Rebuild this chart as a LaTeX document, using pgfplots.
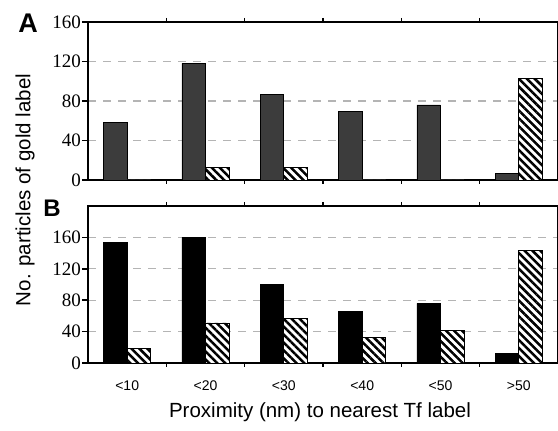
\documentclass[border=0pt]{standalone}
\usepackage{fontspec}
\setmainfont{Liberation Serif}
\newfontfamily\arial{Liberation Sans}
\usepackage{pgfplots}
\pgfplotsset{compat=1.18}
\usetikzlibrary{patterns.meta}
\definecolor{darkbar}{HTML}{3C3C3C}
\definecolor{gridgray}{HTML}{B4B4B4}
\pgfplotsset{
  panel/.style={
    anchor=south west, scale only axis, width=470pt,
    xmin=-0.5, xmax=5.5, ymin=0,
    axis line style={line width=2.4pt},
    xtick={0,1,2,3,4,5},
    major x tick style={draw=none},
    minor xtick={0.5,1.5,2.5,3.5,4.5},
    minor x tick style={line width=1.6pt, black},
    minor tick length=4pt,
    tick align=outside,
    ytick style={line width=1.6pt, black},
    major tick length=6pt,
    ymajorgrids,
    major grid style={gridgray, line width=1.3pt, dash pattern=on 8pt off 7pt},
    yticklabel style={font=\fontsize{19}{19}\selectfont, inner sep=1pt},
    /pgf/number format/assume math mode=true,
    clip=false,
  },
  darkbars/.style={ybar, bar width=0.3, bar shift=-0.15, draw=black, line width=0.8pt},
  hatchbars/.style={ybar, bar width=0.3, bar shift=0.15, draw=black, line width=0.8pt,
    fill=white, postaction={pattern={Lines[angle=-45, distance=5.6pt, line width=2.5pt]}}},
}
\begin{document}
\begin{tikzpicture}[x=1pt, y=1pt]
\useasboundingbox (0,0) rectangle (558,431);
% Panel A
\begin{axis}[panel, at={(88pt,251pt)}, height=158pt, ymax=160,
  ytick={0,40,80,120,160}, xticklabels={}]
\addplot[darkbars, fill=darkbar] coordinates {(0,58) (1,118) (2,87) (3,69) (4,76) (5,7)};
\addplot[hatchbars] coordinates {(0,0) (1,13) (2,13) (3,0) (4,0) (5,103)};
\end{axis}
% Panel B
\begin{axis}[panel, at={(88pt,68pt)}, height=157pt, ymax=200,
  ytick={0,40,80,120,160},
  xticklabels={{<10},{<20},{<30},{<40},{<50},{>50}},
  xticklabel style={font=\arial\fontsize{14}{14}\selectfont, yshift=-8pt}]
\addplot[darkbars, fill=black] coordinates {(0,154) (1,160) (2,100) (3,66) (4,76) (5,12)};
\addplot[hatchbars] coordinates {(0,18) (1,51) (2,57) (3,33) (4,41) (5,143)};
\end{axis}
\node[font=\arial\bfseries\fontsize{27}{27}\selectfont] at (28,408) {A};
\node[font=\arial\bfseries\fontsize{24}{24}\selectfont] at (52,223) {B};
\node[font=\arial\fontsize{20.5}{20.5}\selectfont, rotate=90] at (25,241) {No. particles of gold label};
\node[font=\arial\fontsize{20.5}{20.5}\selectfont] at (320,19) {Proximity (nm) to nearest Tf label};
\end{tikzpicture}
\end{document}
